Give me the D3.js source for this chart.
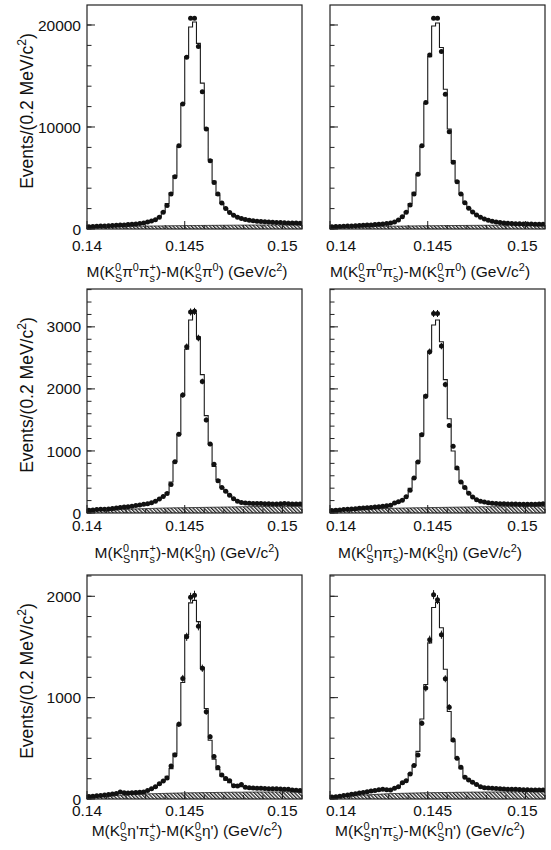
<!DOCTYPE html>
<html lang="en">
<head>
<meta charset="UTF-8">
<title>D* - D mass difference</title>
<script src="https://cdn.jsdelivr.net/npm/d3@7"></script>
<style>
  body { margin: 0; background: #fff; }
  svg { display: block; }
  text { font-family: "Liberation Sans", Arial, Helvetica, sans-serif; fill: #111; }
</style>
</head>
<body>
<svg width="551" height="850"></svg>
<script>
// binning: 0.2 MeV bins from 0.14 GeV
const binLo = 0.14, binW = 0.0002, nBins = 55;
const xTicks = [0.14, 0.145, 0.15];
const xTickLabels = ["0.14", "0.145", "0.15"];
const xMinorStep = 0.001;

// y axis per row
const rowYTicks = [[0, 10000, 20000], [0, 1000, 2000, 3000], [0, 1000, 2000]];
const rowYMinor = [2000, 200, 200];
const rowYMax = [21960, 3610, 2210];

// K0s pi0 pi+
const dataA = [230, 250, 270, 290, 300, 320, 340, 360, 380, 400, 430, 460, 500, 540, 600, 680, 780, 900,
  1150, 1650, 2300, 3430, 5130, 8170, 12250, 16830,
  20650, 20650, 17880, 13460, 9800, 6700, 4560, 3420,
  2550, 2000, 1620, 1350, 1160, 1030, 940, 870, 810, 770, 730, 700, 680, 660, 645, 630, 615, 600, 590, 580, 570];
const fitA = [240, 255, 270, 285, 300, 320, 340, 360, 380, 405, 430, 460, 500, 545, 600, 670, 770, 920,
  1200, 1700, 2500, 3560, 5230, 8070, 12300, 16900,
  19800, 20300, 18200, 14300, 9900, 6800, 4700, 3300,
  2500, 1980, 1620, 1360, 1170, 1040, 940, 870, 810, 770, 730, 700, 680, 660, 645, 630, 615, 600, 590, 580, 570];
const bgA = [150, 165, 178, 190, 200, 210, 219, 228, 236, 244, 251, 258, 265, 272, 278, 284, 290, 296, 301, 306,
  311, 316, 321, 325, 329, 333, 337, 341, 345, 349, 352, 355, 358, 361, 364, 367, 370, 373, 376, 379,
  382, 385, 388, 391, 393, 395, 397, 399, 401, 403, 405, 407, 409, 411, 413];

// K0s pi0 pi-
const dataB = [220, 240, 255, 270, 290, 305, 320, 340, 360, 380, 400, 430, 460, 500, 545, 600, 690, 880,
  1210, 1630, 2350, 3430, 5360, 8170, 12390, 17060,
  20650, 20650, 17390, 13200, 9540, 6540, 4640, 3430,
  2580, 2030, 1670, 1370, 1140, 980, 850, 750, 680, 630, 590, 560, 540, 520, 505, 495, 485, 480, 475, 470, 470];
const fitB = [230, 245, 260, 275, 290, 305, 320, 340, 360, 380, 400, 430, 465, 505, 550, 610, 700, 900,
  1230, 1700, 2500, 3600, 5300, 8100, 12300, 16900,
  19900, 20200, 17800, 13700, 9800, 6700, 4700, 3400,
  2550, 2010, 1660, 1380, 1150, 990, 860, 760, 690, 640, 600, 570, 545, 525, 510, 500, 490, 482, 476, 472, 470];
const bgB = [140, 154, 167, 179, 190, 200, 209, 218, 226, 234, 241, 248, 255, 261, 267, 273, 279, 284, 289, 294,
  299, 304, 308, 312, 316, 320, 324, 328, 331, 334, 337, 340, 343, 346, 349, 352, 355, 358, 360, 362,
  364, 366, 368, 370, 372, 374, 376, 378, 380, 382, 384, 386, 388, 390, 392];

// K0s eta pi+
const dataC = [45, 50, 55, 60, 62, 65, 72, 80, 88, 95, 100, 110, 120, 130, 140, 150, 165,
  190, 225, 265, 315, 460, 825, 1270, 1900, 2680,
  3240, 3250, 2820, 2120, 1500, 1110, 785, 520,
  410, 350, 285, 228, 190, 170, 160, 157, 155, 155, 153, 150, 148, 146, 147, 150, 152, 148, 146, 145, 145];
const fitC = [48, 52, 56, 60, 63, 67, 73, 80, 87, 94, 101, 110, 120, 130, 140, 152, 168,
  190, 222, 265, 330, 500, 830, 1270, 1900, 2640,
  3110, 3220, 2840, 2230, 1570, 1110, 750, 540,
  410, 340, 280, 230, 195, 175, 163, 157, 154, 152, 150, 149, 148, 147, 146, 145, 145, 144, 144, 143, 143];
const bgC = [30, 34, 38, 42, 45, 48, 51, 54, 57, 60, 62, 64, 66, 68, 70, 72, 74, 76, 78, 80,
  81, 82, 83, 84, 85, 86, 87, 88, 89, 90, 91, 92, 93, 94, 95, 96, 97, 98, 99, 100,
  101, 102, 103, 104, 104, 105, 105, 106, 106, 107, 107, 108, 108, 109, 110];

// K0s eta pi-
const dataD = [40, 45, 50, 55, 60, 65, 70, 75, 80, 85, 90, 95, 100, 108, 115, 125, 160,
  180, 205, 260, 365, 565, 820, 1260, 1880, 2600,
  3215, 3215, 2690, 2070, 1410, 1075, 725, 500,
  410, 320, 258, 215, 188, 177, 165, 158, 152, 150, 148, 146, 145, 145, 143, 142, 142, 140, 140, 145, 150];
const fitD = [42, 47, 52, 57, 62, 66, 71, 76, 81, 86, 91, 96, 102, 108, 116, 128, 148,
  175, 210, 270, 400, 560, 830, 1280, 1900, 2600,
  3030, 3110, 2760, 2150, 1520, 1000, 700, 500,
  400, 320, 260, 218, 190, 175, 165, 158, 153, 150, 148, 147, 146, 145, 144, 143, 143, 142, 142, 142, 142];
const bgD = [35, 39, 43, 46, 49, 52, 55, 58, 61, 63, 65, 67, 69, 71, 73, 75, 77, 79, 80, 81,
  82, 83, 84, 85, 86, 87, 88, 89, 90, 91, 92, 93, 94, 95, 96, 97, 98, 99, 100, 100,
  101, 101, 102, 102, 103, 103, 104, 104, 105, 105, 106, 106, 107, 107, 108];

// K0s eta' pi+
const dataE = [25, 28, 32, 35, 40, 45, 50, 55, 68, 62, 60, 62, 63, 66, 70, 85, 100,
  120, 150, 178, 208, 325, 435, 737, 1190, 1600,
  1990, 2010, 1705, 1290, 860, 615, 420, 312,
  238, 203, 180, 130, 128, 142, 115, 110, 108, 107, 105, 103, 100, 102, 100, 98, 97, 95, 90, 86, 84];
const fitE = [22, 26, 30, 34, 38, 42, 46, 50, 54, 57, 60, 63, 66, 70, 75, 82, 95,
  115, 140, 175, 225, 300, 450, 725, 1150, 1620,
  1935, 1960, 1750, 1300, 893, 580, 392, 290,
  225, 185, 160, 142, 130, 122, 116, 112, 108, 105, 103, 101, 99, 97, 96, 95, 94, 93, 92, 91, 90];
const bgE = [12, 16, 20, 23, 26, 29, 32, 35, 37, 39, 41, 43, 45, 47, 49, 51, 52, 53, 54, 55,
  56, 57, 58, 59, 60, 61, 61, 62, 62, 63, 63, 64, 64, 65, 65, 66, 66, 67, 67, 67,
  68, 68, 68, 69, 69, 69, 70, 70, 70, 70, 71, 71, 71, 72, 72];

// K0s eta' pi-
const dataF = [20, 23, 28, 34, 40, 46, 52, 58, 65, 72, 79, 85, 92, 95, 92, 89, 105,
  122, 161, 181, 247, 330, 435, 748, 1094, 1572,
  2016, 1967, 1621, 1186, 906, 583, 402, 313,
  214, 188, 165, 142, 122, 112, 108, 105, 103, 100, 98, 97, 96, 95, 93, 92, 92, 90, 90, 89, 88];
const fitF = [20, 24, 29, 34, 40, 46, 52, 58, 64, 70, 76, 82, 86, 89, 92, 96, 105,
  120, 150, 185, 250, 330, 470, 790, 1130, 1540,
  1890, 1940, 1690, 1280, 863, 570, 400, 300,
  225, 180, 155, 138, 126, 118, 112, 108, 104, 101, 99, 97, 96, 95, 94, 93, 92, 91, 90, 90, 89];
const bgF = [14, 18, 22, 25, 28, 31, 34, 37, 39, 41, 43, 45, 47, 49, 51, 53, 54, 55, 56, 57,
  58, 59, 60, 61, 62, 62, 63, 63, 64, 64, 65, 65, 66, 66, 67, 67, 68, 68, 68, 69,
  69, 69, 70, 70, 70, 71, 71, 71, 72, 72, 72, 73, 73, 73, 74];

// {sup|sub} or {sup}
const titles = [
  "M(K{0|S}π{0}π{+|s})-M(K{0|S}π{0}) (GeV/c{2})",
  "M(K{0|S}π{0}π{-|s})-M(K{0|S}π{0}) (GeV/c{2})",
  "M(K{0|S}ηπ{+|s})-M(K{0|S}η) (GeV/c{2})",
  "M(K{0|S}ηπ{-|s})-M(K{0|S}η) (GeV/c{2})",
  "M(K{0|S}η'π{+|s})-M(K{0|S}η') (GeV/c{2})",
  "M(K{0|S}η'π{-|s})-M(K{0|S}η') (GeV/c{2})"
];
const yTitle = "Events/(0.2 MeV/c{2})";

const panels = [
  {row: 0, col: 0, data: dataA, fit: fitA, bg: bgA, title: titles[0]},
  {row: 0, col: 1, data: dataB, fit: fitB, bg: bgB, title: titles[1]},
  {row: 1, col: 0, data: dataC, fit: fitC, bg: bgC, title: titles[2]},
  {row: 1, col: 1, data: dataD, fit: fitD, bg: bgD, title: titles[3]},
  {row: 2, col: 0, data: dataE, fit: fitE, bg: bgE, title: titles[4]},
  {row: 2, col: 1, data: dataF, fit: fitF, bg: bgF, title: titles[5]}
];

// layout
const colX = [87, 330], rowY = [5, 289, 575];
const pw = 215, ph = 224;
const tickLabelY = [251, 531, 816], titleY = [277, 558, 836];
const rightLabelShift = [11, 5, -3];   // right column tick labels sit a bit off their ticks
const fs = 15.5;

const svg = d3.select("svg");
const defs = svg.append("defs");
defs.append("pattern")
    .attr("id", "hatch")
    .attr("patternUnits", "userSpaceOnUse")
    .attr("width", 2.6).attr("height", 2.6)
    .attr("patternTransform", "rotate(-45)")
  .append("rect")
    .attr("width", 1.3).attr("height", 2.6)
    .attr("fill", "#222");

// text with stacked super/subscripts
function richText(sel, str, size) {
  const parts = str.split(/(\{[^}]*\})/).filter(s => s.length);
  let off = 0, pendDx = 0;
  const small = size * 0.7, up = -size * 0.4, down = size * 0.3;
  parts.forEach(p => {
    if (p[0] !== "{") {
      sel.append("tspan").attr("font-size", size).attr("dy", -off).attr("dx", pendDx).text(p);
      off = 0; pendDx = 0;
      return;
    }
    const [sup, sub] = p.slice(1, -1).split("|");
    const t1 = sel.append("tspan").attr("font-size", small).attr("dy", up - off).text(sup);
    off = up;
    if (sub !== undefined) {
      const w1 = t1.node().getComputedTextLength();
      const t2 = sel.append("tspan").attr("font-size", small)
          .attr("dx", -w1).attr("dy", down - off).text(sub);
      off = down;
      const w2 = t2.node().getComputedTextLength();
      pendDx = Math.max(0, w1 - w2);
    }
  });
}

panels.forEach((p, k) => {
  const x0 = colX[p.col], y0 = rowY[p.row];
  const g = svg.append("g").attr("transform", `translate(${x0},${y0})`);
  const x = d3.scaleLinear().domain([binLo, binLo + nBins * binW]).range([0, pw]);
  const y = d3.scaleLinear().domain([0, rowYMax[p.row]]).range([ph, 0]);

  const clipId = "clip" + k;
  defs.append("clipPath").attr("id", clipId)
    .append("rect").attr("width", pw).attr("height", ph);
  const plot = g.append("g").attr("clip-path", `url(#${clipId})`);

  const steps = vals => vals.flatMap((v, i) => [
    [binLo + i * binW, v], [binLo + (i + 1) * binW, v]
  ]);

  // background, hatched
  plot.append("path")
    .attr("d", d3.area().x(d => x(d[0])).y0(y(0)).y1(d => y(d[1]))(steps(p.bg)))
    .attr("fill", "url(#hatch)");
  plot.append("path")
    .attr("d", d3.line().x(d => x(d[0])).y(d => y(d[1]))(steps(p.bg)))
    .attr("fill", "none").attr("stroke", "#222").attr("stroke-width", 0.8);

  // fitted histogram
  plot.append("path")
    .attr("d", d3.line().x(d => x(d[0])).y(d => y(d[1]))(steps(p.fit)))
    .attr("fill", "none").attr("stroke", "#1a1a1a").attr("stroke-width", 1.1);

  // data with errors
  const pts = p.data.map((v, i) => ({x: binLo + (i + 0.5) * binW, v}));
  plot.selectAll("line.err").data(pts).join("line")
    .attr("class", "err")
    .attr("x1", d => x(d.x)).attr("x2", d => x(d.x))
    .attr("y1", d => y(d.v - Math.sqrt(d.v))).attr("y2", d => y(d.v + Math.sqrt(d.v)))
    .attr("stroke", "#111").attr("stroke-width", 1);
  plot.selectAll("circle").data(pts).join("circle")
    .attr("cx", d => x(d.x)).attr("cy", d => y(d.v))
    .attr("r", 2.5).attr("fill", "#111");

  // ticks
  const minorY = d3.range(0, rowYMax[p.row], rowYMinor[p.row]);
  g.selectAll("line.ymin").data(minorY).join("line")
    .attr("x1", 0).attr("x2", 4.5).attr("y1", d => y(d)).attr("y2", d => y(d))
    .attr("stroke", "#222");
  g.selectAll("line.ymaj").data(rowYTicks[p.row]).join("line")
    .attr("x1", 0).attr("x2", 8).attr("y1", d => y(d)).attr("y2", d => y(d))
    .attr("stroke", "#222");
  const minorX = d3.range(binLo, binLo + nBins * binW, xMinorStep);
  g.selectAll("line.xmin").data(minorX).join("line")
    .attr("x1", d => x(d)).attr("x2", d => x(d)).attr("y1", ph).attr("y2", ph - 4)
    .attr("stroke", "#222");
  g.selectAll("line.xmaj").data(xTicks).join("line")
    .attr("x1", d => x(d)).attr("x2", d => x(d)).attr("y1", ph).attr("y2", ph - 8)
    .attr("stroke", "#222");

  // frame
  g.append("rect").attr("width", pw).attr("height", ph)
    .attr("fill", "none").attr("stroke", "#222").attr("stroke-width", 1.2);

  // tick labels
  xTicks.forEach((t, i) => {
    svg.append("text")
      .attr("x", x0 + x(t) + (p.col === 1 ? rightLabelShift[i] : 0))
      .attr("y", tickLabelY[p.row])
      .attr("text-anchor", "middle").attr("font-size", fs)
      .text(xTickLabels[i]);
  });
  if (p.col === 0) {
    rowYTicks[p.row].forEach(t => {
      svg.append("text")
        .attr("x", x0 - 6).attr("y", y0 + y(t)).attr("dy", "0.36em")
        .attr("text-anchor", "end").attr("font-size", fs)
        .text(t);
    });
    const yt = svg.append("text")
      .attr("transform", `translate(33,${y0 + ph / 2 - 6}) rotate(-90)`)
      .attr("text-anchor", "middle");
    richText(yt, yTitle, 17.5);
  }

  const xt = svg.append("text")
    .attr("x", x0 + 100).attr("y", titleY[p.row])
    .attr("text-anchor", "middle");
  richText(xt, p.title, fs);
});
</script>
</body>
</html>
